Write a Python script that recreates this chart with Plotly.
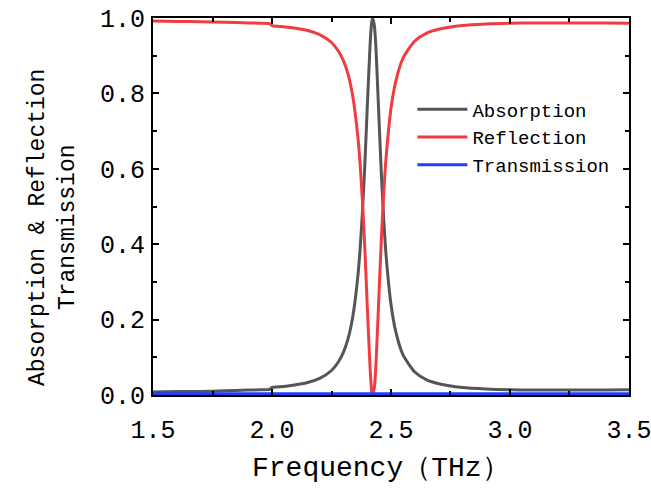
import plotly.graph_objects as go

freq = [1.5, 1.6, 1.7, 1.8, 1.9, 1.95, 1.99, 2.0, 2.05, 2.1, 2.15, 2.2, 2.25, 2.28, 2.3, 2.32,
        2.34, 2.36, 2.37, 2.38, 2.39, 2.40, 2.41, 2.415, 2.42, 2.424, 2.43, 2.435, 2.44,
        2.45, 2.46, 2.47, 2.48, 2.5, 2.52, 2.55, 2.6, 2.65, 2.7, 2.8, 2.9, 3.0, 3.1, 3.2,
        3.3, 3.4, 3.5]
absorption = [0.008, 0.009, 0.0095, 0.011, 0.013, 0.014, 0.015, 0.020, 0.0225, 0.027, 0.033,
              0.044, 0.065, 0.089, 0.113, 0.15, 0.21, 0.31, 0.385, 0.485, 0.61, 0.76, 0.90,
              0.96, 0.993, 0.998, 0.98, 0.94, 0.875, 0.725, 0.58, 0.46, 0.365, 0.24, 0.168,
              0.107, 0.061, 0.04, 0.03, 0.02, 0.016, 0.014, 0.013, 0.013, 0.013, 0.013, 0.014]
reflection = [0.992, 0.991, 0.990, 0.989, 0.987, 0.986, 0.985, 0.980, 0.977, 0.973, 0.967,
              0.956, 0.935, 0.911, 0.887, 0.85, 0.79, 0.69, 0.615, 0.515, 0.39, 0.24, 0.10,
              0.04, 0.007, 0.002, 0.02, 0.06, 0.125, 0.275, 0.42, 0.54, 0.635, 0.76, 0.832,
              0.893, 0.939, 0.96, 0.97, 0.98, 0.984, 0.986, 0.987, 0.987, 0.987, 0.987, 0.986]
transmission = [0.003] * len(freq)

x_ticks = [1.5, 2.0, 2.5, 3.0, 3.5]
x_labels = ["1.5", "2.0", "2.5", "3.0", "3.5"]
y_ticks = [0, 0.2, 0.4, 0.6, 0.8, 1.0]
y_labels = ["0.0", "0.2", "0.4", "0.6", "0.8", "1.0"]

series = [("Absorption", absorption, "#555555"),
          ("Reflection", reflection, "#f03c40"),
          ("Transmission", transmission, "#1f3cff")]

FONT = "Liberation Mono"

fig = go.Figure()
for name, ys, col in series:
    fig.add_trace(go.Scatter(x=freq, y=ys, name=name, mode="lines",
                             line=dict(color=col, width=3, shape="spline", smoothing=0.6)))

axis_common = dict(showline=True, linecolor="black", linewidth=2, mirror="allticks",
                   ticks="inside", ticklen=6, tickwidth=2, tickcolor="black",
                   showgrid=False, zeroline=False, ticklabeloverflow="allow",
                   automargin=False,
                   tickfont=dict(family=FONT, size=25, color="black"))

fig.update_xaxes(range=[1.4999, 3.5001], tickvals=x_ticks, ticktext=x_labels,
                 minor=dict(dtick=0.25, ticks="inside", ticklen=4, tickwidth=2, tickcolor="black"),
                 ticklabelstandoff=11,
                 **axis_common)
fig.update_yaxes(range=[0, 1.0], tickvals=y_ticks, ticktext=y_labels,
                 minor=dict(dtick=0.1, ticks="inside", ticklen=4, tickwidth=2, tickcolor="black"),
                 ticklabelstandoff=1,
                 **axis_common)

fig.add_annotation(text="Frequency（THz）", xref="paper", yref="paper", x=0.48, y=-0.194,
                   xanchor="center", yanchor="middle", showarrow=False,
                   font=dict(family=FONT, size=28, color="black"))
fig.add_annotation(text="Absorption & Reflection<br>Transmission", xref="paper", yref="paper",
                   x=-0.21, y=0.443, xanchor="center", yanchor="middle", showarrow=False,
                   textangle=-90, font=dict(family=FONT, size=23, color="black"))

fig.update_layout(width=651, height=492, margin=dict(l=153, r=22, t=18, b=97),
                  plot_bgcolor="white", paper_bgcolor="white",
                  legend=dict(x=0.545, y=0.683, xanchor="left", yanchor="middle",
                              bgcolor="rgba(0,0,0,0)", tracegroupgap=0, itemwidth=50,
                              font=dict(family=FONT, size=19, color="black")),
                  showlegend=True)

fig.write_html("out.html")
